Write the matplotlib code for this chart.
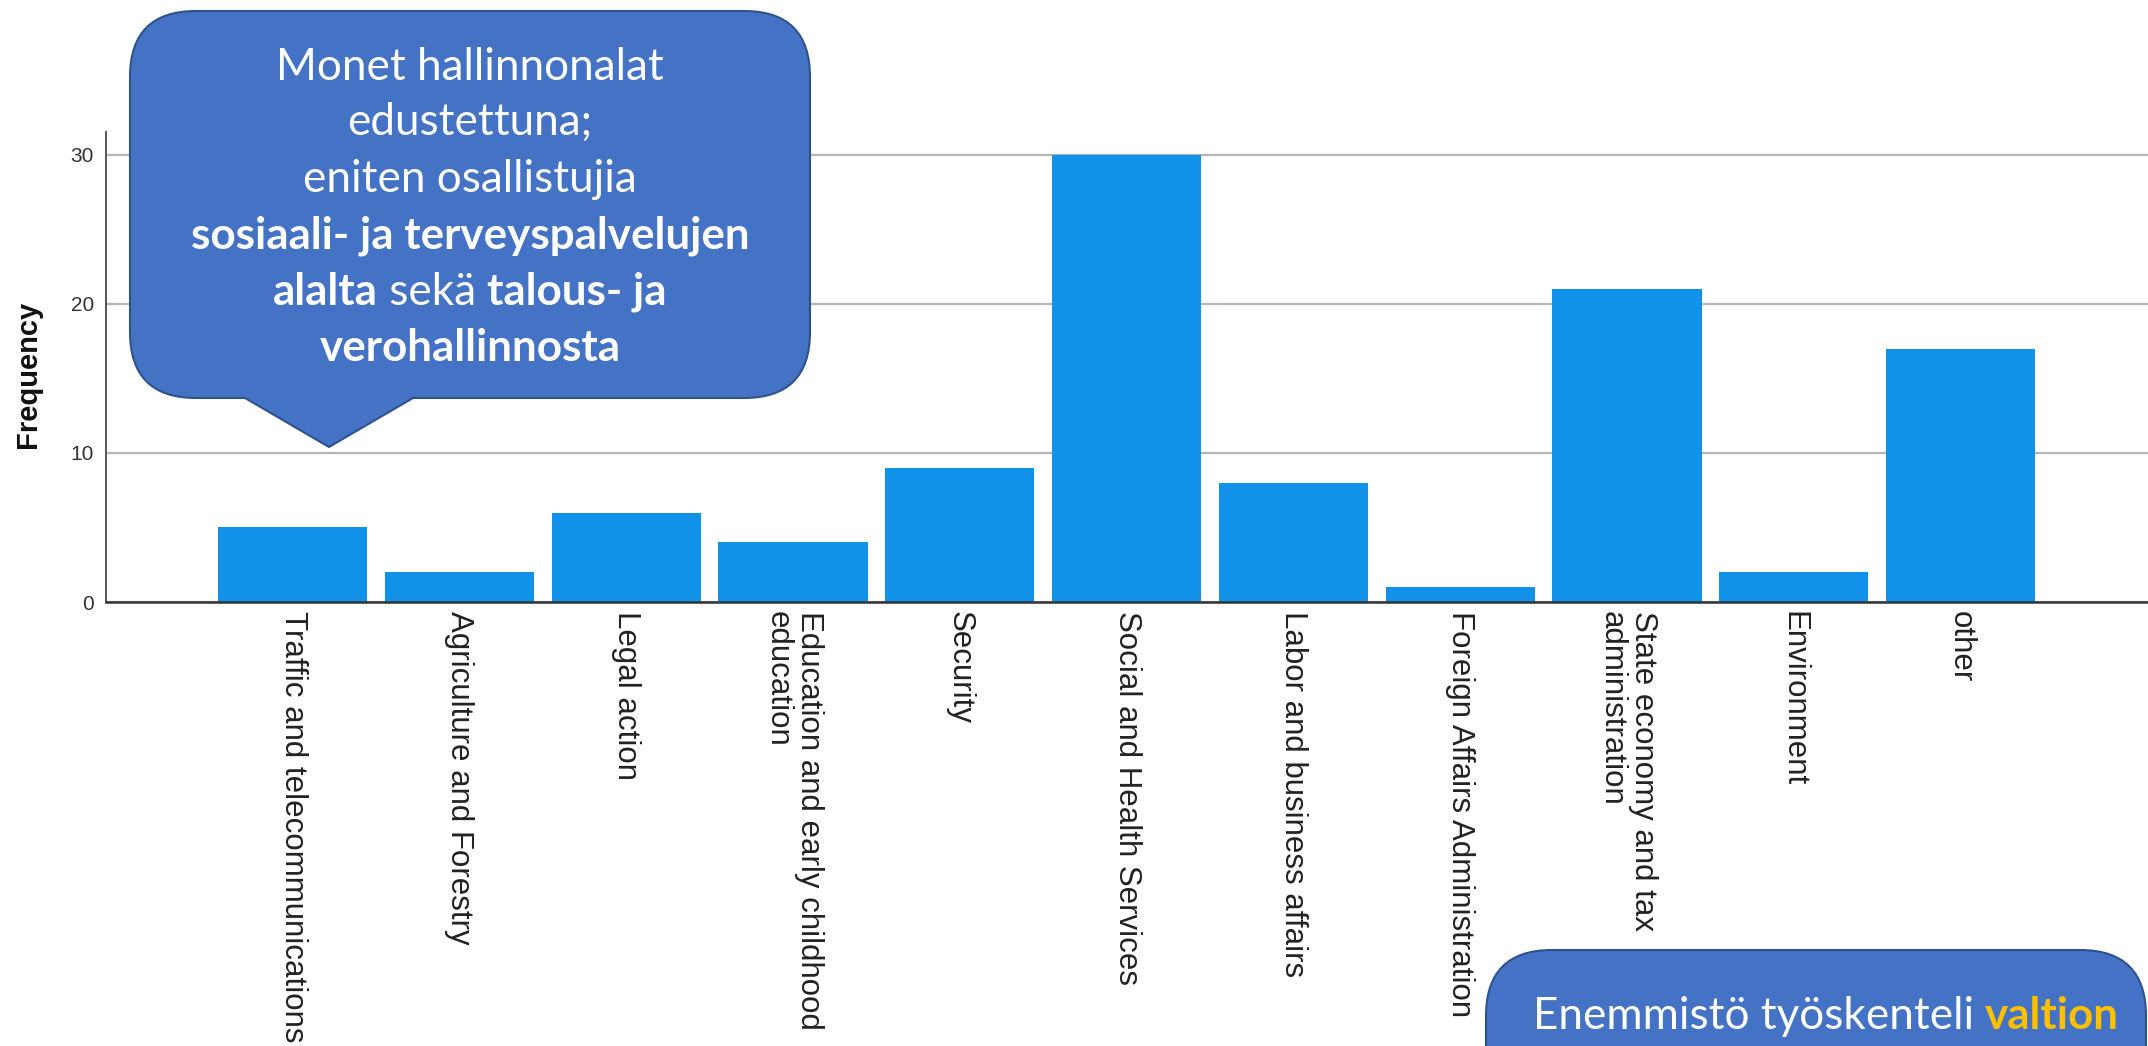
import matplotlib
matplotlib.use("Agg")
import matplotlib.pyplot as plt
from matplotlib.path import Path
from matplotlib.patches import PathPatch
from matplotlib.transforms import Affine2D

# ---------------- data ----------------
categories = [
    "Traffic and telecommunications",
    "Agriculture and Forestry",
    "Legal action",
    "Education and early childhood\neducation",
    "Security",
    "Social and Health Services",
    "Labor and business affairs",
    "Foreign Affairs Administration",
    "State economy and tax\nadministration",
    "Environment",
    "other",
]
frequencies = [5, 2, 6, 4, 9, 30, 8, 1, 21, 2, 17]
y_ticks = [0, 10, 20, 30]
y_label = "Frequency"

callout1_lines = [
    [("Monet hallinnonalat", "normal", "white")],
    [("edustettuna;", "normal", "white")],
    [("eniten osallistujia", "normal", "white")],
    [("sosiaali- ja terveyspalvelujen", "bold", "white")],
    [("alalta", "bold", "white"), (" sekä ", "normal", "white"), ("talous- ja", "bold", "white")],
    [("verohallinnosta", "bold", "white")],
]
callout2_lines = [
    [("Enemmistö työskenteli ", "normal", "white"), ("valtion", "bold", "#FFC000")],
]

# ---------------- figure ----------------
W, H, DPI = 2148, 1046, 100
fig = plt.figure(figsize=(W / DPI, H / DPI), dpi=DPI)
fig.patch.set_facecolor("white")
# transform for image-pixel coordinates (y down)
px = Affine2D().scale(1, -1).translate(0, H).scale(1 / W, 1 / H) + fig.transFigure

ax_l, ax_r, ax_t, ax_b = 106, W, 131.7, 602
ax = fig.add_axes([ax_l / W, 1 - ax_b / H, (ax_r - ax_l) / W, (ax_b - ax_t) / H])

xpos = list(range(len(categories)))
ax.bar(xpos, frequencies, width=0.895, color="#1192E8", zorder=2, linewidth=0)
ax.set_xlim(-1.119, 11.124)
ax.set_ylim(0, 31.56)

ax.set_axisbelow(True)
ax.set_yticks(y_ticks)
ax.yaxis.grid(True, color="#b4b4b4", linewidth=1.6)
ax.xaxis.grid(False)
for s in ("top", "right"):
    ax.spines[s].set_visible(False)
ax.spines["left"].set_color("#555555")
ax.spines["left"].set_linewidth(1.4)
ax.spines["bottom"].set_color("#333333")
ax.spines["bottom"].set_linewidth(1.8)
ax.spines["bottom"].set_zorder(3)

ax.set_xticks(xpos)
ax.set_xticklabels(categories, rotation=270, fontsize=22.5, family="Liberation Sans",
                   color="#222222", ha="center", va="top", multialignment="left",
                   linespacing=1.05)
ax.tick_params(axis="x", length=0, pad=6.5)
ax.tick_params(axis="y", length=0, pad=8.6, labelsize=15, labelcolor="#333333")
for t in ax.get_yticklabels():
    t.set_family("Liberation Sans")

ax.set_ylabel(y_label, fontsize=21, fontweight="bold", family="Liberation Sans", color="#111111")
ax.yaxis.set_label_coords((42 - ax_l) / (ax_r - ax_l), (ax_b - 374) / (ax_b - ax_t))


# ---------------- callouts ----------------
def rounded_path(x0, y0, x1, y1, r, pointer=None):
    verts, codes = [], []

    def mv(p):
        verts.append(p); codes.append(Path.MOVETO)

    def ln(p):
        verts.append(p); codes.append(Path.LINETO)

    def cv(c, p):
        verts.extend([c, p]); codes.extend([Path.CURVE3, Path.CURVE3])

    mv((x0 + r, y0))
    ln((x1 - r, y0))
    cv((x1, y0), (x1, y0 + r))
    ln((x1, y1 - r))
    cv((x1, y1), (x1 - r, y1))
    if pointer is not None:
        bx0, bx1, tip = pointer
        ln((bx1, y1))
        ln(tip)
        ln((bx0, y1))
    ln((x0 + r, y1))
    cv((x0, y1), (x0, y1 - r))
    ln((x0, y0 + r))
    cv((x0, y0), (x0 + r, y0))
    verts.append((x0 + r, y0)); codes.append(Path.CLOSEPOLY)
    return Path(verts, codes)


box_fc, box_ec = "#4472C4", "#2F528F"
p1 = rounded_path(130, 11, 810, 398, 66, pointer=(245, 413, (329, 447)))
fig.add_artist(PathPatch(p1, transform=px, facecolor=box_fc, edgecolor=box_ec, lw=1.5, zorder=5))
p2 = rounded_path(1486, 950, 2146, 1250, 66)
fig.add_artist(PathPatch(p2, transform=px, facecolor=box_fc, edgecolor=box_ec, lw=1.5, zorder=5))

FONT = "Lato"
renderer = fig.canvas.get_renderer()


def seg_width(s, size, weight):
    t1 = fig.text(0, 0, "|" + s + "|", fontsize=size, fontweight=weight, family=FONT)
    t2 = fig.text(0, 0, "||", fontsize=size, fontweight=weight, family=FONT)
    w = t1.get_window_extent(renderer).width - t2.get_window_extent(renderer).width
    t1.remove(); t2.remove()
    return w


ref = 30.0
fs = ref * 386.0 / seg_width("Monet hallinnonalat", ref, "normal")


def draw_line(segs, cx, baseline, size):
    widths = [seg_width(s, size, w) for s, w, c in segs]
    x = cx - sum(widths) / 2.0
    for (s, w, c), wd in zip(segs, widths):
        fig.text(x, baseline, s, transform=px, fontsize=size, fontweight=w, color=c,
                 family=FONT, ha="left", va="baseline", zorder=6)
        x += wd


baselines1 = [80, 135, 192, 248, 305, 361]
for segs, b in zip(callout1_lines, baselines1):
    draw_line(segs, 470, b, fs)

for segs, b in zip(callout2_lines, [1029]):
    draw_line(segs, 1826, b, fs)

fig.savefig("out.png", dpi=DPI)
